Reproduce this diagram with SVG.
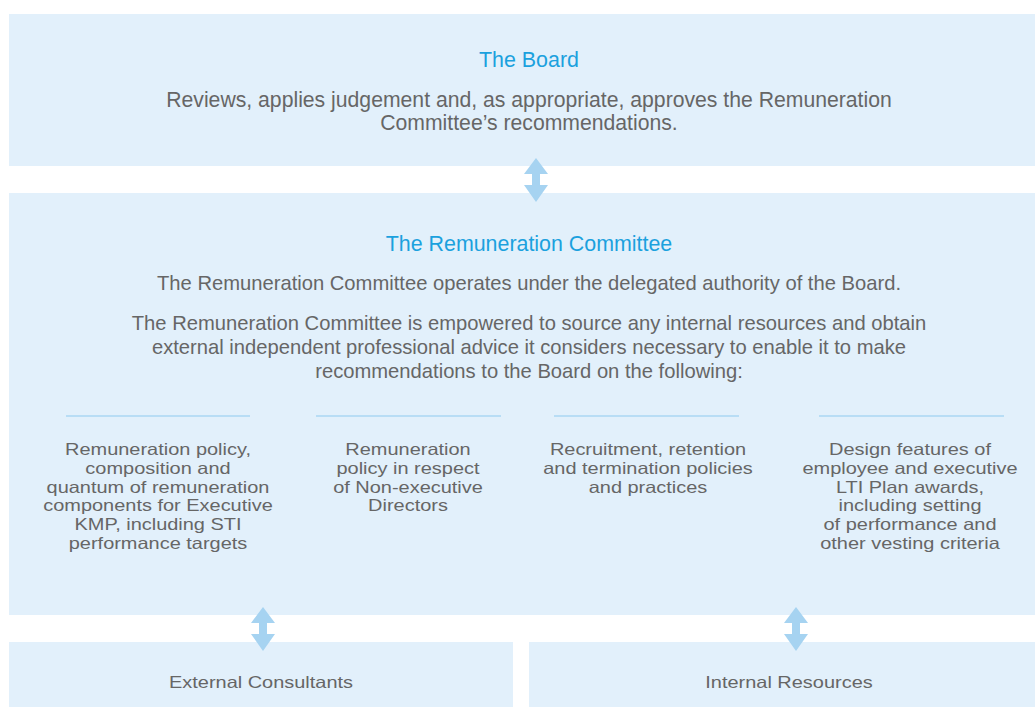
<svg xmlns="http://www.w3.org/2000/svg" width="1035" height="707" viewBox="0 0 1035 707">
  <style>
    .box { fill: #e2f0fb; }
    .title { font-family: "Liberation Sans", Arial, sans-serif; font-size: 21.4px; fill: #1ba1de; text-anchor: middle; }
    .lead { font-family: "Liberation Sans", Arial, sans-serif; font-size: 21.2px; fill: #666666; text-anchor: middle; }
    .body { font-family: "Liberation Sans", Arial, sans-serif; font-size: 20.2px; fill: #666666; text-anchor: middle; }
    .col { font-family: "Liberation Sans", Arial, sans-serif; font-size: 16.5px; fill: #666666; text-anchor: middle; }
    .rule { stroke: #aad7f3; stroke-width: 1.5; }
    .arrow { fill: #a6d3f1; }
  </style>
  <defs>
    <!-- double-headed vertical arrow, centred on x=0, spanning y=0..44 -->
    <path id="dbl" d="M0,0 L12,16 L4,16 L4,27 L12,27 L0,44 L-12,27 L-4,27 L-4,16 L-12,16 Z"/>
  </defs>
  <rect width="1035" height="707" fill="#ffffff"/>

  <g id="board">
    <rect class="box" x="9" y="14" width="1026" height="152"/>
    <text class="title" x="529" y="67">The Board</text>
    <text class="lead" x="529" y="107">Reviews, applies judgement and, as appropriate, approves the Remuneration</text>
    <text class="lead" x="529" y="130">Committee’s recommendations.</text>
  </g>

  <g id="committee">
    <rect class="box" x="9" y="193" width="1026" height="422"/>
    <text class="title" x="529" y="251">The Remuneration Committee</text>
    <text class="body" x="529" y="290">The Remuneration Committee operates under the delegated authority of the Board.</text>
    <text class="body" x="529" y="330">The Remuneration Committee is empowered to source any internal resources and obtain</text>
    <text class="body" x="529" y="354">external independent professional advice it considers necessary to enable it to make</text>
    <text class="body" x="529" y="378">recommendations to the Board on the following:</text>
  </g>

  <!-- column texts are set slightly wide: smaller font size, stretched horizontally -->
  <g id="col-executive">
    <line class="rule" x1="66" y1="416" x2="250" y2="416"/>
    <g transform="translate(158 0) scale(1.21 1)">
      <text class="col" x="0" y="455">Remuneration policy,</text>
      <text class="col" x="0" y="473.8">composition and</text>
      <text class="col" x="0" y="492.6">quantum of remuneration</text>
      <text class="col" x="0" y="511.4">components for Executive</text>
      <text class="col" x="0" y="530.2">KMP, including STI</text>
      <text class="col" x="0" y="549">performance targets</text>
    </g>
  </g>

  <g id="col-nonexec">
    <line class="rule" x1="316" y1="416" x2="501" y2="416"/>
    <g transform="translate(408 0) scale(1.21 1)">
      <text class="col" x="0" y="455">Remuneration</text>
      <text class="col" x="0" y="473.8">policy in respect</text>
      <text class="col" x="0" y="492.6">of Non-executive</text>
      <text class="col" x="0" y="511.4">Directors</text>
    </g>
  </g>

  <g id="col-recruitment">
    <line class="rule" x1="554" y1="416" x2="739" y2="416"/>
    <g transform="translate(648 0) scale(1.21 1)">
      <text class="col" x="0" y="455">Recruitment, retention</text>
      <text class="col" x="0" y="473.8">and termination policies</text>
      <text class="col" x="0" y="492.6">and practices</text>
    </g>
  </g>

  <g id="col-lti">
    <line class="rule" x1="819" y1="416" x2="1004" y2="416"/>
    <g transform="translate(910 0) scale(1.21 1)">
      <text class="col" x="0" y="455">Design features of</text>
      <text class="col" x="0" y="473.8">employee and executive</text>
      <text class="col" x="0" y="492.6">LTI Plan awards,</text>
      <text class="col" x="0" y="511.4">including setting</text>
      <text class="col" x="0" y="530.2">of performance and</text>
      <text class="col" x="0" y="549">other vesting criteria</text>
    </g>
  </g>

  <g id="external">
    <rect class="box" x="9" y="642" width="504" height="65"/>
    <g transform="translate(261 0) scale(1.21 1)">
      <text class="col" x="0" y="688">External Consultants</text>
    </g>
  </g>

  <g id="internal">
    <rect class="box" x="529" y="642" width="506" height="65"/>
    <g transform="translate(789 0) scale(1.21 1)">
      <text class="col" x="0" y="688">Internal Resources</text>
    </g>
  </g>

  <g id="connectors">
    <use class="arrow" href="#dbl" x="536" y="158"/>
    <use class="arrow" href="#dbl" x="263" y="607"/>
    <use class="arrow" href="#dbl" x="796" y="607"/>
  </g>
</svg>
